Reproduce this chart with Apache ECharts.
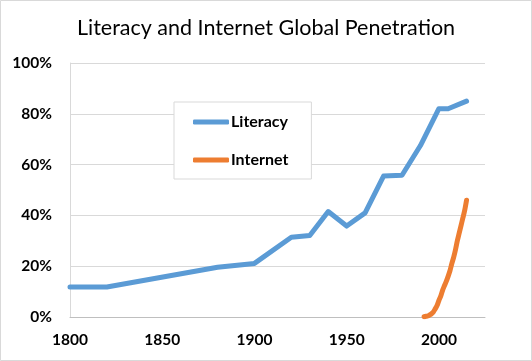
<!DOCTYPE html>
<html>
<head>
<meta charset="utf-8">
<script src="https://cdn.jsdelivr.net/npm/echarts@6/dist/echarts.min.js"></script>
<style>html,body{margin:0;padding:0;background:#fff}#c{width:532px;height:361px}</style>
</head>
<body>
<div id="c"></div>
<script>
var titleText = 'Literacy and Internet Global Penetration';
var literacyYears = [1800, 1820, 1880, 1900, 1920, 1930, 1940, 1950, 1960, 1970, 1980, 1990, 2000, 2005, 2015];
var literacyValues = [11.8, 11.8, 19.6, 21.1, 31.4, 32.1, 41.5, 35.8, 41.0, 55.5, 55.8, 67.5, 82.0, 82.0, 85.0];
var internetYears = [1992, 1993, 1994, 1995, 1996, 1997, 1998, 1999, 2000, 2001, 2002, 2003, 2004, 2005, 2006, 2007, 2008, 2009, 2010, 2011, 2012, 2013, 2014, 2015];
var internetValues = [0.1, 0.3, 0.4, 0.8, 1.3, 2.0, 3.2, 4.5, 6.5, 8.2, 10.5, 12.3, 14.0, 16.0, 18.2, 21.0, 23.5, 26.5, 30.0, 33.0, 36.0, 39.0, 42.0, 46.0];
var seriesNames = ['Literacy', 'Internet'];

function zip(xs, ys) { return xs.map(function (x, i) { return [x, ys[i]]; }); }

var chart = echarts.init(document.getElementById('c'));
chart.setOption({
  animation: false,
  backgroundColor: '#fff',
  textStyle: { fontFamily: 'Lato' },
  title: {
    text: titleText, left: 'center', top: 12,
    textStyle: { fontFamily: 'Lato', fontSize: 21.5, fontWeight: 'normal', color: '#000' }
  },
  graphic: [{
    type: 'rect', shape: { x: 0.5, y: 0.5, width: 531, height: 360 },
    style: { fill: 'none', stroke: '#d9d9d9', lineWidth: 1 }, silent: true
  }],
  legend: {
    orient: 'vertical', left: 174, top: 102,
    padding: [10, 23, 9, 19], itemGap: 18,
    itemWidth: 36, itemHeight: 5, icon: 'roundRect',
    backgroundColor: '#fff', borderColor: '#d9d9d9', borderWidth: 1,
    textStyle: { fontFamily: 'Lato', fontSize: 16, lineHeight: 20, fontWeight: 'bold', color: '#000', padding: [0, 0, 0, -3] },
    data: seriesNames
  },
  grid: { left: 70, right: 47, top: 63, bottom: 44, containLabel: false },
  xAxis: {
    type: 'value', min: 1800, max: 2025, interval: 50,
    axisLine: { show: true, lineStyle: { color: '#bfbfbf' } },
    axisTick: { show: false },
    splitLine: { show: false },
    axisLabel: {
      margin: 15, color: '#000', fontFamily: 'Lato', fontSize: 15.5, fontWeight: 'bold',
      formatter: function (v) { return v % 50 === 0 ? String(v) : ''; }
    }
  },
  yAxis: {
    type: 'value', min: 0, max: 100, interval: 20,
    axisLine: { show: true, lineStyle: { color: '#d9d9d9' } },
    axisTick: { show: false },
    splitLine: { show: true, lineStyle: { color: '#d9d9d9', width: 1 } },
    axisLabel: {
      margin: 18, color: '#000', fontFamily: 'Lato', fontSize: 15.5, fontWeight: 'bold',
      formatter: '{value}%'
    }
  },
  series: [
    {
      name: seriesNames[0], type: 'line', data: zip(literacyYears, literacyValues),
      showSymbol: false, symbol: 'none', color: '#5B9BD5',
      lineStyle: { width: 5, color: '#5B9BD5', cap: 'round', join: 'round' }
    },
    {
      name: seriesNames[1], type: 'line', data: zip(internetYears, internetValues),
      showSymbol: false, symbol: 'none', color: '#ED7D31', smooth: 0.3,
      lineStyle: { width: 5, color: '#ED7D31', cap: 'round', join: 'round' }
    }
  ]
});
</script>
</body>
</html>
